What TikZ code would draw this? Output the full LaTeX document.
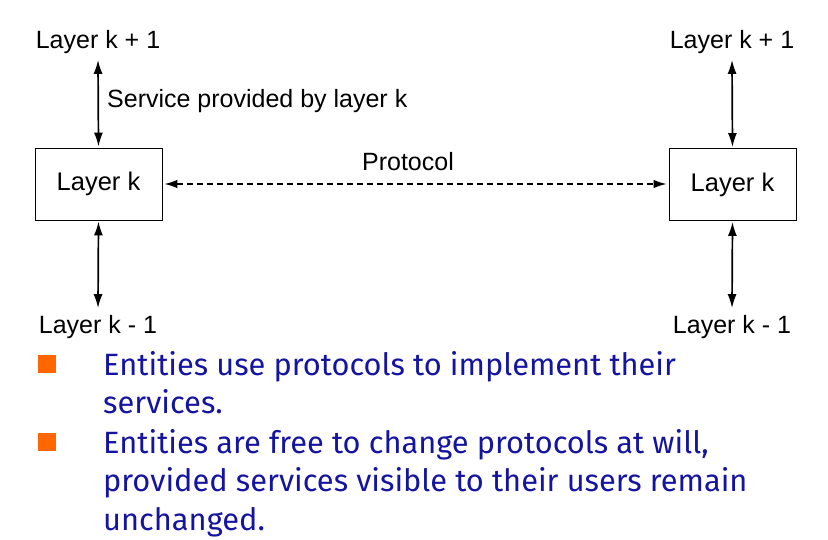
\documentclass[tikz,border=0pt]{standalone}
\usepackage{fontspec}
\setmainfont{Liberation Sans}
\newfontfamily\bulletfont{Fira Sans}
\usetikzlibrary{arrows.meta}
\definecolor{bulletblue}{RGB}{20,20,160}
\definecolor{bulletorange}{RGB}{255,102,0}
\begin{document}
\begin{tikzpicture}[x=1pt,y=-1pt,
  layerbox/.style={draw,line width=0.9pt,minimum width=127pt,minimum height=72pt,inner sep=0pt,font=\fontsize{25.5}{28}\selectfont},
  lbl/.style={font=\fontsize{25}{28}\selectfont,inner sep=0pt},
  svc/.style={line width=1.7pt,{Latex[length=14pt,width=9pt]}-{Latex[length=14pt,width=9pt]}},
  proto/.style={line width=1.4pt,dash pattern=on 6pt off 4pt,{Latex[length=13pt,width=8.5pt]}-{Latex[length=13pt,width=8.5pt]}},
  bullet/.style={fill=bulletorange,minimum size=18pt,inner sep=0pt},
  btext/.style={anchor=north west,inner sep=0pt,align=left,text=bulletblue,font=\bulletfont\fontsize{30.8}{38.5}\selectfont}
]
\useasboundingbox (0,0) rectangle (828,540);
% boxes
\node[layerbox] (lk) at (98.5,184) {Layer k};
\node[layerbox] (rk) at (732.5,184.5) {Layer k};
% labels
\node[lbl] (lt) at (98,42) {Layer k + 1};
\node[lbl] (lb) at (98,327) {Layer k - 1};
\node[lbl] (rt) at (732,42) {Layer k + 1};
\node[lbl] (rb) at (732,327) {Layer k - 1};
\node[lbl,anchor=west] (svcl) at (107,101) {Service provided by layer k};
\node[lbl] (prl) at (408,162) {Protocol};
% arrows
\draw[svc] ([yshift=-6pt]lt.south) -- ([yshift=1pt]lk.north);
\draw[svc] ([yshift=-1pt]lk.south) -- ([yshift=7pt]lb.north);
\draw[svc] ([yshift=-6pt]rt.south) -- ([yshift=1pt]rk.north);
\draw[svc] ([yshift=-1pt]rk.south) -- ([yshift=7pt]rb.north);
\draw[proto] ([xshift=2pt]lk.east) -- ([xshift=-2pt]rk.west |- lk.east);
% bullets
\node[bullet] (b1) at (46.5,364) {};
\node[bullet] (b2) at (46.5,442) {};
\node[btext] (t1) at (103,351) {Entities use protocols to implement their\\services.};
\node[btext] (t2) at (103,429) {Entities are free to change protocols at will,\\provided services visible to their users remain\\unchanged.};
\end{tikzpicture}
\end{document}
